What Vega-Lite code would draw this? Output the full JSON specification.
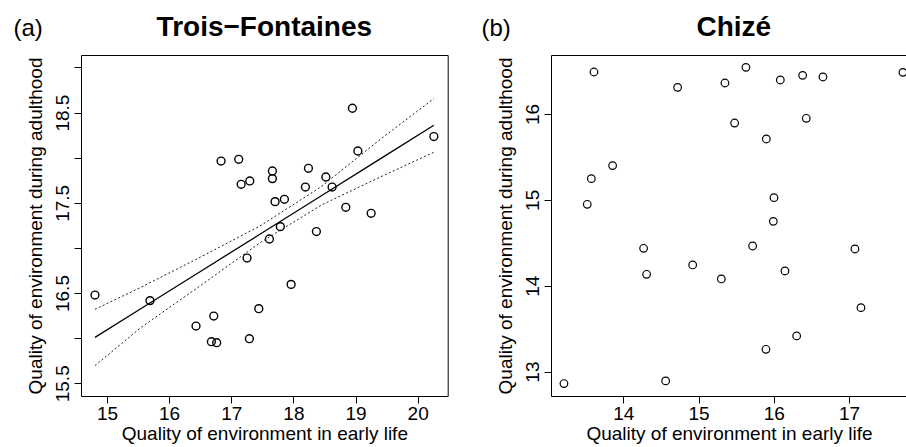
{
  "$schema": "https://vega.github.io/schema/vega-lite/v6.json",
  "autosize": {"type": "pad"},
  "padding": {"left": 12, "top": 13, "right": 0, "bottom": 0},
  "background": "white",
  "datasets": {
    "tf_pts": [
      {"early": 14.807, "adult": 16.478},
      {"early": 15.692, "adult": 16.416},
      {"early": 16.433, "adult": 16.134},
      {"early": 16.718, "adult": 16.245},
      {"early": 16.680, "adult": 15.961},
      {"early": 16.766, "adult": 15.950},
      {"early": 17.292, "adult": 15.994},
      {"early": 17.443, "adult": 16.327},
      {"early": 16.836, "adult": 17.963},
      {"early": 17.120, "adult": 17.982},
      {"early": 17.159, "adult": 17.705},
      {"early": 17.298, "adult": 17.742},
      {"early": 17.662, "adult": 17.853},
      {"early": 17.662, "adult": 17.768},
      {"early": 17.705, "adult": 17.513},
      {"early": 17.855, "adult": 17.539},
      {"early": 17.790, "adult": 17.236},
      {"early": 17.614, "adult": 17.099},
      {"early": 17.254, "adult": 16.888},
      {"early": 17.963, "adult": 16.596},
      {"early": 18.193, "adult": 17.675},
      {"early": 18.242, "adult": 17.882},
      {"early": 18.370, "adult": 17.181},
      {"early": 18.522, "adult": 17.786},
      {"early": 18.623, "adult": 17.675},
      {"early": 18.843, "adult": 17.450},
      {"early": 18.950, "adult": 18.548},
      {"early": 19.037, "adult": 18.074},
      {"early": 19.251, "adult": 17.384},
      {"early": 20.260, "adult": 18.234}
    ],
    "tf_fit": [
      {"early": 14.807, "fit": 16.009, "lo": 15.695, "hi": 16.319},
      {"early": 15.55, "fit": 16.329, "lo": 16.12, "hi": 16.565},
      {"early": 16.51, "fit": 16.742, "lo": 16.585, "hi": 16.90},
      {"early": 17.48, "fit": 17.160, "lo": 17.065, "hi": 17.25},
      {"early": 18.45, "fit": 17.578, "lo": 17.475, "hi": 17.68},
      {"early": 19.41, "fit": 17.992, "lo": 17.79, "hi": 18.21},
      {"early": 20.26, "fit": 18.359, "lo": 18.06, "hi": 18.655}
    ],
    "ch_pts": [
      {"early": 13.211, "adult": 12.861},
      {"early": 13.610, "adult": 16.489},
      {"early": 13.521, "adult": 14.948},
      {"early": 13.575, "adult": 15.247},
      {"early": 13.858, "adult": 15.399},
      {"early": 14.270, "adult": 14.436},
      {"early": 14.310, "adult": 14.133},
      {"early": 14.563, "adult": 12.892},
      {"early": 14.722, "adult": 16.310},
      {"early": 14.922, "adult": 14.242},
      {"early": 15.303, "adult": 14.079},
      {"early": 15.351, "adult": 16.361},
      {"early": 15.480, "adult": 15.895},
      {"early": 15.630, "adult": 16.543},
      {"early": 15.719, "adult": 14.463},
      {"early": 15.901, "adult": 15.709},
      {"early": 15.896, "adult": 13.260},
      {"early": 16.003, "adult": 15.026},
      {"early": 15.994, "adult": 14.750},
      {"early": 16.087, "adult": 16.396},
      {"early": 16.149, "adult": 14.172},
      {"early": 16.304, "adult": 13.416},
      {"early": 16.384, "adult": 16.450},
      {"early": 16.432, "adult": 15.950},
      {"early": 16.654, "adult": 16.431},
      {"early": 17.079, "adult": 14.428},
      {"early": 17.159, "adult": 13.745},
      {"early": 17.717, "adult": 16.485}
    ]
  },
  "spacing": 103,
  "bounds": "flush",
  "hconcat": [
    {
      "width": 366.7,
      "height": 341,
      "title": {"text": "Trois−Fontaines", "offset": -25.6},
      "layer": [
        {
          "data": {"name": "tf_pts"},
          "mark": {"type": "point", "shape": "circle", "filled": false, "stroke": "black", "strokeWidth": 1.4, "size": 62, "opacity": 1},
          "encoding": {
            "x": {"field": "early", "type": "quantitative",
              "scale": {"domain": [14.582, 20.483], "zero": false, "nice": false},
              "axis": {"orient": "bottom", "values": [15, 16, 17, 18, 19, 20], "format": "d", "title": "Quality of environment in early life"}},
            "y": {"field": "adult", "type": "quantitative",
              "scale": {"domain": [15.359, 19.138], "zero": false, "nice": false},
              "axis": {"orient": "left", "values": [15.5, 16, 16.5, 17, 17.5, 18, 18.5, 19], "format": ".1f", "labelExpr": "datum.value % 1 == 0.5 ? datum.label : ''", "title": "Quality of environment during adulthood"}}
          }
        },
        {
          "data": {"name": "tf_fit"},
          "mark": {"type": "line", "color": "black", "strokeWidth": 1.3},
          "encoding": {
            "x": {"field": "early", "type": "quantitative",
              "scale": {"domain": [14.582, 20.483], "zero": false, "nice": false},
              "axis": {"orient": "top", "title": "(a)", "labels": false, "ticks": false, "domain": false, "titleX": -68, "titleY": -20, "titleAlign": "left", "titleBaseline": "alphabetic", "titleAngle": 0, "titleFontSize": 24}},
            "y": {"field": "fit", "type": "quantitative",
              "scale": {"domain": [15.359, 19.138], "zero": false, "nice": false}, "axis": null}
          }
        },
        {
          "data": {"name": "tf_fit"},
          "mark": {"type": "line", "color": "#222222", "strokeWidth": 1, "strokeDash": [2, 2.3]},
          "encoding": {
            "x": {"field": "early", "type": "quantitative",
              "scale": {"domain": [14.582, 20.483], "zero": false, "nice": false}, "axis": null},
            "y": {"field": "hi", "type": "quantitative",
              "scale": {"domain": [15.359, 19.138], "zero": false, "nice": false}, "axis": null}
          }
        },
        {
          "data": {"name": "tf_fit"},
          "mark": {"type": "line", "color": "#222222", "strokeWidth": 1, "strokeDash": [2, 2.3]},
          "encoding": {
            "x": {"field": "early", "type": "quantitative",
              "scale": {"domain": [14.582, 20.483], "zero": false, "nice": false}, "axis": null},
            "y": {"field": "lo", "type": "quantitative",
              "scale": {"domain": [15.359, 19.138], "zero": false, "nice": false}, "axis": null}
          }
        }
      ],
      "resolve": {"axis": {"x": "independent", "y": "independent"}}
    },
    {
      "width": 356,
      "height": 341,
      "view": {"stroke": null},
      "title": {"text": "Chizé", "offset": -25.6, "dx": 4.8},
      "layer": [
        {
          "data": {"name": "ch_pts"},
          "mark": {"type": "point", "shape": "circle", "filled": false, "stroke": "black", "strokeWidth": 1.2, "size": 58, "opacity": 1, "clip": true},
          "encoding": {
            "x": {"field": "early", "type": "quantitative",
              "scale": {"domain": [13.039, 17.771], "zero": false, "nice": false},
              "axis": {"orient": "bottom", "values": [14, 15, 16, 17], "format": "d", "domain": true, "domainColor": "black", "title": "Quality of environment in early life"}},
            "y": {"field": "adult", "type": "quantitative",
              "scale": {"domain": [12.716, 16.687], "zero": false, "nice": false},
              "axis": {"values": [13, 14, 15, 16], "format": "d", "domain": true, "domainColor": "black", "title": "Quality of environment during adulthood"}}
          }
        },
        {
          "data": {"values": []},
          "mark": {"type": "rule", "color": "black"},
          "encoding": {
            "x": {"field": "early", "type": "quantitative",
              "scale": {"domain": [13.039, 17.771], "zero": false, "nice": false},
              "axis": {"orient": "top", "title": "(b)", "labels": false, "ticks": false, "domain": true, "domainColor": "black", "titleX": -70, "titleY": -20, "titleAlign": "left", "titleBaseline": "alphabetic", "titleAngle": 0, "titleFontSize": 24}}
          }
        }
      ],
      "resolve": {"axis": {"x": "independent"}}
    }
  ],
  "config": {
    "font": "Liberation Sans",
    "view": {"stroke": "black", "strokeWidth": 1},
    "axis": {"grid": false, "domain": false, "domainWidth": 1, "tickColor": "black", "tickSize": 7, "tickWidth": 1, "labelColor": "black", "labelFont": "Liberation Sans", "labelFontSize": 19, "labelOverlap": false, "labelFlush": false, "titleFont": "Liberation Sans", "titleFontSize": 19, "titleFontWeight": "normal", "titleColor": "black", "labelPadding": 1, "titlePadding": 1},
    "axisY": {"labelAngle": -90, "labelAlign": "center", "labelBaseline": "bottom", "labelPadding": 2, "titlePadding": 8},
    "title": {"font": "Liberation Sans", "fontSize": 28, "fontWeight": "bold", "color": "black", "anchor": "middle", "frame": "group", "baseline": "alphabetic"}
  }
}
